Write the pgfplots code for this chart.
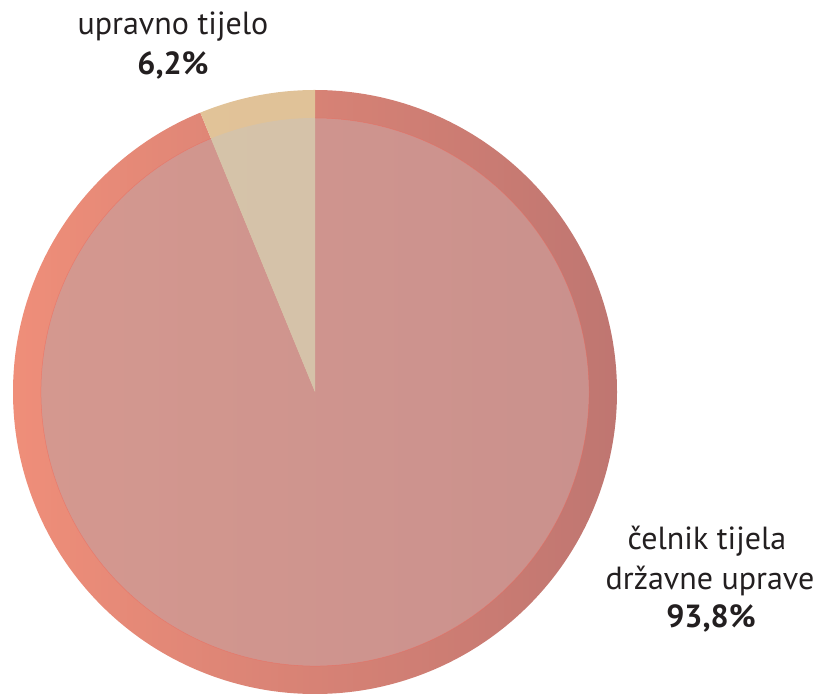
\documentclass[border=0pt]{standalone}
\usepackage{fontspec}
\setmainfont{PT Sans}
\usepackage{pgfplots}
\usepackage{pgfplotstable}
\pgfplotsset{compat=1.18}

\definecolor{ringL}{HTML}{EF8E79}
\definecolor{ringR}{HTML}{BF7671}
\definecolor{ringsL}{HTML}{E5C597}
\definecolor{ringsR}{HTML}{DABE99}
\definecolor{pieL}{HTML}{D4988F}
\definecolor{pieR}{HTML}{CA918D}
\definecolor{piesL}{HTML}{D7C4A9}
\definecolor{piesR}{HTML}{D2C0AA}
\definecolor{txt}{HTML}{231F20}

\pgfplotstableread{
share
93.8
6.2
}\piedata
\pgfplotstablegetelem{0}{share}\of\piedata \let\sbig\pgfplotsretval
\pgfplotstablegetelem{1}{share}\of\piedata \let\ssmall\pgfplotsretval
\pgfmathsetmacro{\amid}{90+3.6*\ssmall}
\pgfmathsetmacro{\aend}{\amid+3.6*\sbig}
\def\Ro{302}
\def\Ri{274}

\begin{document}
\begin{tikzpicture}
\begin{axis}[
    x=1pt, y=1pt,
    scale only axis,
    hide axis,
    xmin=-315, xmax=504,
    ymin=-303, ymax=392,
    clip=false,
]
% outer ring, big slice
\begin{scope}
  \clip (axis cs:0,0) -- (axis cs:{\Ro*cos(\amid)},{\Ro*sin(\amid)})
        arc[start angle=\amid, end angle=\aend, radius=\Ro pt] -- cycle;
  \shade[left color=ringL, right color=ringR] (axis cs:0,0) circle[radius=\Ro pt];
\end{scope}
% outer ring, small slice
\begin{scope}
  \clip (axis cs:0,0) -- (axis cs:0,\Ro)
        arc[start angle=90, end angle=\amid, radius=\Ro pt] -- cycle;
  \shade[left color=ringsL, right color=ringsR] (axis cs:0,0) circle[radius=\Ro pt];
\end{scope}
% inner pie, big slice
\begin{scope}
  \clip (axis cs:0,0) -- (axis cs:{\Ri*cos(\amid)},{\Ri*sin(\amid)})
        arc[start angle=\amid, end angle=\aend, radius=\Ri pt] -- cycle;
  \shade[left color=pieL, right color=pieR] (axis cs:0,0) circle[radius=\Ri pt];
\end{scope}
% inner pie, small slice
\begin{scope}
  \clip (axis cs:0,0) -- (axis cs:0,\Ri)
        arc[start angle=90, end angle=\amid, radius=\Ri pt] -- cycle;
  \shade[left color=piesL, right color=piesR] (axis cs:0,0) circle[radius=\Ri pt];
\end{scope}
\draw[color=ringL!70!red, line width=0.5pt, opacity=0.5]
  (axis cs:{\Ri*cos(\amid)},{\Ri*sin(\amid)})
  arc[start angle=\amid, end angle=\aend, radius=\Ri pt];

% labels
\node[anchor=base, text=txt, font=\fontsize{32}{38}\selectfont] at (axis cs:-142,357) {upravno tijelo};
\node[anchor=base, text=txt, font=\fontsize{32}{38}\selectfont\bfseries] at (axis cs:-142,317) {6,2\%};
\node[anchor=base, text=txt, font=\fontsize{32}{38}\selectfont] at (axis cs:392,-158) {čelnik tijela};
\node[anchor=base, text=txt, font=\fontsize{32}{38}\selectfont] at (axis cs:395,-198) {državne uprave};
\node[anchor=base, text=txt, font=\fontsize{32}{38}\selectfont\bfseries] at (axis cs:396,-236) {93,8\%};
\end{axis}
\pgfresetboundingbox
\path[use as bounding box] (current axis.south west) rectangle (current axis.north east);
\end{tikzpicture}
\end{document}
